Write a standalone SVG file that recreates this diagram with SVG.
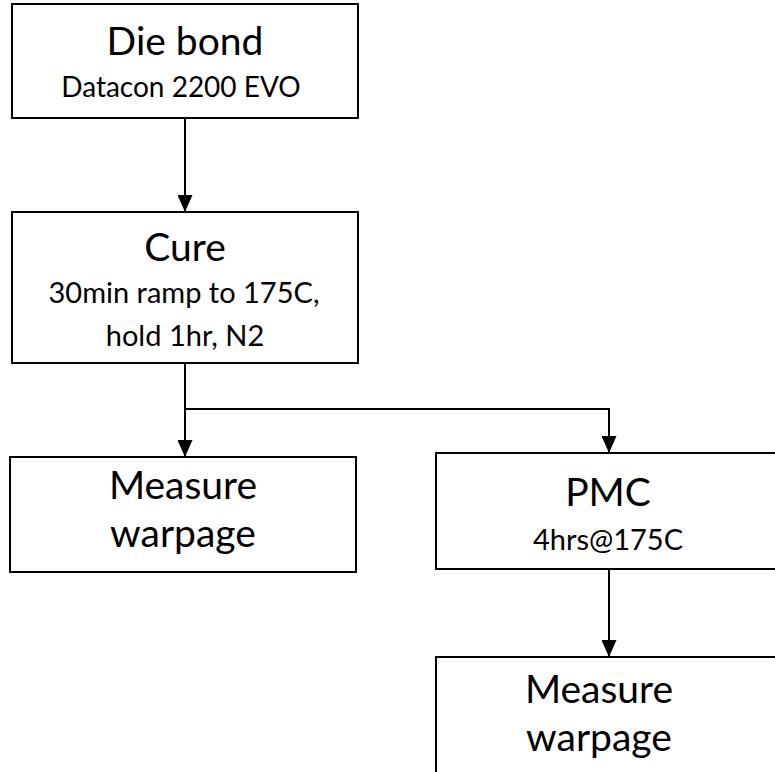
<svg xmlns="http://www.w3.org/2000/svg" width="775" height="772" viewBox="0 0 775 772">
<defs>
<marker id="arr" viewBox="0 0 17 15" refX="17" refY="7.5" markerWidth="17" markerHeight="15" markerUnits="userSpaceOnUse" orient="auto">
<path d="M0,0 L17,7.5 L0,15 Z" fill="#000"/>
</marker>
<style>
.box{fill:#fff;stroke:#000;stroke-width:2}
.t{font-family:Lato,"Open Sans","Liberation Sans",sans-serif;fill:#000;text-anchor:middle}
.big{font-size:39px}
.small{font-size:29px}
.con{fill:none;stroke:#000;stroke-width:2}
</style>
</defs>
<rect width="775" height="772" fill="#fff"/>
<g id="connectors">
<line class="con" x1="185" y1="118" x2="185" y2="212" marker-end="url(#arr)"/>
<polyline class="con" points="185,363 185,409 609,409 609,453" marker-end="url(#arr)"/>
<line class="con" x1="185" y1="409" x2="185" y2="457" marker-end="url(#arr)"/>
<line class="con" x1="609" y1="569" x2="609" y2="657" marker-end="url(#arr)"/>
</g>
<g id="die-bond">
<rect class="box" x="12" y="4" width="346" height="114"/>
<text class="t big" x="185" y="55">Die bond</text>
<text class="t small" x="181" y="97" style="font-size:28px">Datacon 2200 EVO</text>
</g>
<g id="cure">
<rect class="box" x="12" y="212" width="346" height="151"/>
<text class="t big" x="185" y="261">Cure</text>
<text class="t small" x="184" y="303">30min ramp to 175C,</text>
<text class="t small" x="185" y="346">hold 1hr, N2</text>
</g>
<g id="measure-1">
<rect class="box" x="10" y="457" width="346" height="115"/>
<text class="t big" x="183" y="499">Measure</text>
<text class="t big" x="183" y="547">warpage</text>
</g>
<g id="pmc">
<rect class="box" x="436" y="453" width="350" height="116"/>
<text class="t big" x="608" y="506">PMC</text>
<text class="t small" x="608" y="550">4hrs@175C</text>
</g>
<g id="measure-2">
<rect class="box" x="436" y="657" width="350" height="130"/>
<text class="t big" x="599" y="703">Measure</text>
<text class="t big" x="599" y="751">warpage</text>
</g>
</svg>
